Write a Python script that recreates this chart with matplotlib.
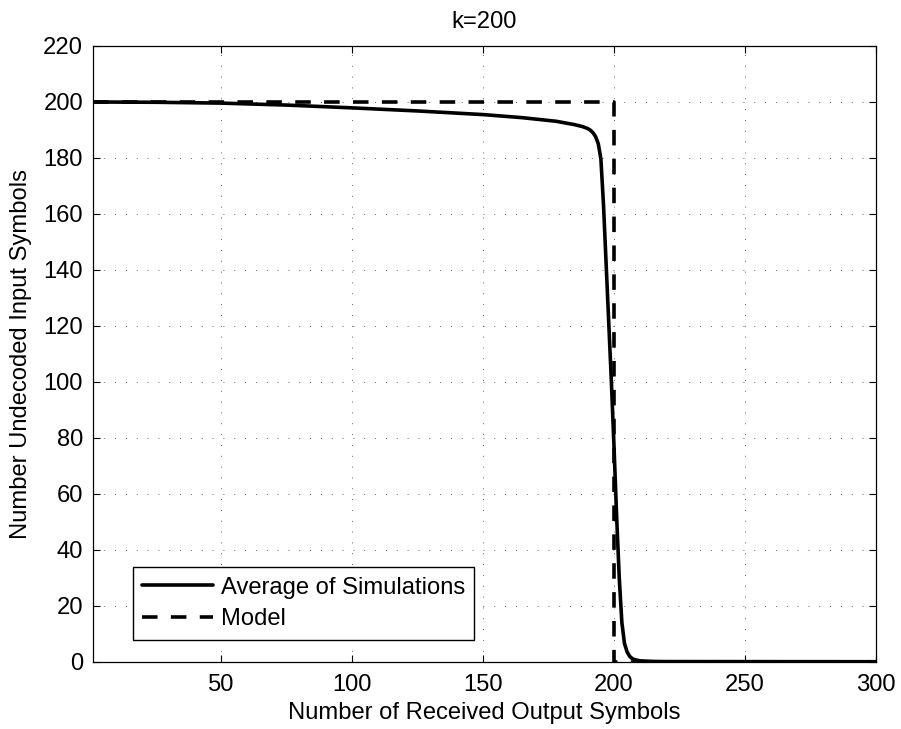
import matplotlib
matplotlib.use("Agg")
import matplotlib.pyplot as plt

plt.rcParams['font.family'] = ['Liberation Sans', 'DejaVu Sans']

# Average number of undecoded input symbols over simulations (k = 200)
received = [1, 25, 50, 75, 100, 125, 150, 165, 178, 185, 188, 190, 191, 192,
            193, 194, 195, 196, 197, 198, 199, 200, 201, 202, 203, 204, 205,
            206, 207, 208, 210, 215, 220, 300]
avg_undecoded = [199.9, 199.8, 199.5, 198.8, 197.8, 196.7, 195.4, 194.3, 193.0,
                 191.8, 191.1, 190.4, 189.8, 188.9, 187.5, 185.0, 179.5, 163.0,
                 142.0, 121.0, 100.0, 77.0, 52.0, 30.0, 14.0, 6.5, 3.5, 1.9,
                 1.1, 0.7, 0.3, 0.1, 0.05, 0.0]

# Idealised model: nothing decodes until k symbols arrive
model_received = [1, 200, 200, 300]
model_undecoded = [200, 200, 0, 0]

x_ticks = [50, 100, 150, 200, 250, 300]
y_ticks = list(range(0, 221, 20))

FS = 17.1

fig = plt.figure(figsize=(9.01, 7.29), dpi=100)
ax = fig.add_axes([0.1029, 0.0923, 0.8693, 0.845])

ax.plot(received, avg_undecoded, color='black', lw=2.6,
        label='Average of Simulations', solid_joinstyle='round',
        solid_capstyle='round', zorder=3)
model_line, = ax.plot(model_received, model_undecoded, color='black', lw=2.6,
                      label='Model', zorder=3)
model_line.set_dashes([4.3, 3.7])

ax.set_xlim(1, 300)
ax.set_ylim(0, 220)
ax.set_xticks(x_ticks)
ax.set_yticks(y_ticks)
ax.tick_params(direction='in', length=5, width=0.8, labelsize=FS,
               top=True, right=True, colors='black', pad=7)
ax.tick_params(axis='x', pad=9)
for s in ax.spines.values():
    s.set_linewidth(0.9)

ax.grid(True, color='black', lw=0.6, linestyle=(0, (1, 12)), alpha=0.8)
ax.set_axisbelow(True)

ax.set_xlabel('Number of Received Output Symbols', fontsize=FS, labelpad=4)
ax.set_ylabel('Number Undecoded Input Symbols', fontsize=FS, labelpad=8)
ax.set_title('k=200', fontsize=FS, pad=13)

leg = ax.legend(loc='lower left', bbox_to_anchor=(0.051, 0.036), fontsize=FS,
                handlelength=3.0, handletextpad=0.3, labelspacing=0.4,
                borderpad=0.4, borderaxespad=0, fancybox=False, framealpha=1,
                edgecolor='black')
leg.get_frame().set_linewidth(1.0)

fig.savefig('out.png', dpi=100)
